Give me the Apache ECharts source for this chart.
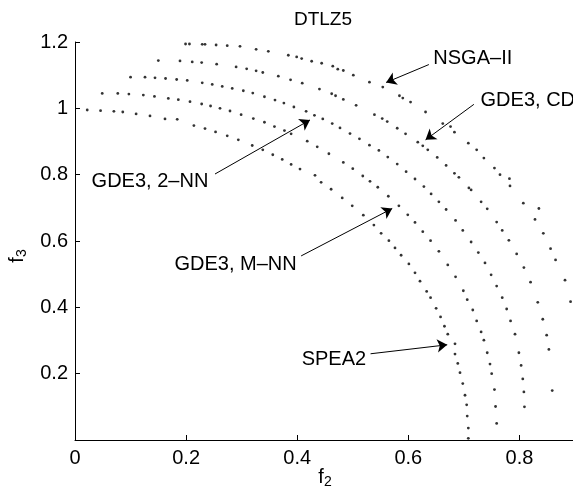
<!DOCTYPE html>
<html>
<head>
<meta charset="utf-8">
<script src="https://cdn.jsdelivr.net/npm/echarts@6/dist/echarts.min.js"></script>
<style>
  html, body { margin: 0; padding: 0; background: #fff; }
  #chart { width: 573px; height: 490px; }
</style>
</head>
<body>
<div id="chart"></div>
<script>
// points, [f2, f3]
var spea2 = [
  [0.022,0.995],[0.046,0.993],[0.070,0.991],[0.086,0.989],[0.110,0.983],[0.135,0.977],[0.162,0.968],[0.184,0.967],
  [0.214,0.948],[0.234,0.939],[0.253,0.929],[0.274,0.917],[0.294,0.905],[0.319,0.888],[0.338,0.875],[0.356,0.860],
  [0.373,0.846],[0.389,0.831],[0.405,0.817],[0.432,0.798],[0.443,0.777],[0.461,0.756],[0.481,0.730],[0.499,0.706],
  [0.519,0.678],[0.538,0.648],[0.551,0.623],[0.565,0.601],[0.576,0.579],[0.587,0.557],[0.601,0.531],[0.612,0.504],
  [0.621,0.479],[0.633,0.448],[0.640,0.429],[0.650,0.397],[0.658,0.371],[0.665,0.343],[0.671,0.319],[0.684,0.290],
  [0.684,0.259],[0.689,0.231],[0.693,0.203],[0.698,0.170],[0.702,0.135],[0.705,0.106],[0.706,0.072],[0.708,0.036],
  [0.708,0.005]
];
var gde3Mnn = [
  [0.049,1.045],[0.077,1.045],[0.097,1.043],[0.123,1.040],[0.143,1.036],[0.168,1.030],[0.186,1.026],[0.207,1.020],
  [0.228,1.013],[0.244,1.007],[0.261,1.000],[0.279,0.992],[0.299,0.981],[0.321,0.969],[0.341,0.958],[0.359,0.945],
  [0.377,0.933],[0.389,0.923],[0.418,0.901],[0.436,0.884],[0.457,0.863],[0.483,0.837],[0.500,0.818],[0.518,0.796],
  [0.531,0.780],[0.545,0.762],[0.564,0.735],[0.583,0.706],[0.599,0.679],[0.612,0.656],[0.626,0.628],[0.640,0.601],
  [0.655,0.569],[0.671,0.528],[0.685,0.492],[0.699,0.450],[0.706,0.423],[0.716,0.392],[0.723,0.359],[0.731,0.326],
  [0.736,0.301],[0.742,0.263],[0.747,0.229],[0.750,0.200],[0.755,0.152],[0.757,0.101],[0.759,0.050]
];
var gde3Nn2 = [
  [0.100,1.094],[0.126,1.094],[0.144,1.092],[0.163,1.090],[0.183,1.087],[0.202,1.084],[0.229,1.077],[0.247,1.072],
  [0.265,1.066],[0.283,1.060],[0.303,1.053],[0.320,1.046],[0.341,1.035],[0.360,1.025],[0.376,1.016],[0.394,1.004],
  [0.416,0.991],[0.431,0.979],[0.446,0.968],[0.463,0.954],[0.477,0.941],[0.495,0.924],[0.512,0.908],[0.530,0.889],
  [0.547,0.873],[0.563,0.853],[0.580,0.832],[0.596,0.809],[0.612,0.787],[0.628,0.764],[0.641,0.742],[0.655,0.718],
  [0.668,0.695],[0.685,0.662],[0.698,0.632],[0.713,0.597],[0.726,0.565],[0.738,0.534],[0.749,0.498],[0.759,0.464],
  [0.769,0.429],[0.777,0.395],[0.784,0.359],[0.792,0.319],[0.799,0.263],[0.803,0.225],[0.806,0.184],[0.808,0.145],
  [0.809,0.100]
];
var gde3Cd = [
  [0.150,1.144],[0.189,1.143],[0.211,1.140],[0.228,1.138],[0.255,1.133],[0.290,1.125],[0.309,1.119],[0.326,1.113],
  [0.338,1.108],[0.366,1.097],[0.388,1.086],[0.409,1.076],[0.440,1.058],[0.462,1.044],[0.469,1.038],[0.483,1.027],
  [0.506,1.009],[0.539,0.981],[0.553,0.969],[0.562,0.960],[0.580,0.940],[0.595,0.923],[0.617,0.898],[0.626,0.887],
  [0.635,0.875],[0.652,0.852],[0.668,0.828],[0.683,0.804],[0.691,0.792],[0.709,0.760],[0.713,0.754],[0.731,0.718],
  [0.742,0.697],[0.759,0.657],[0.769,0.632],[0.781,0.602],[0.795,0.561],[0.808,0.520],[0.820,0.476],[0.833,0.415],
  [0.842,0.364],[0.849,0.316],[0.853,0.273],[0.859,0.149]
];
var nsga2 = [
  [0.199,1.194],[0.206,1.194],[0.229,1.193],[0.234,1.193],[0.254,1.191],[0.274,1.189],[0.297,1.187],[0.326,1.178],
  [0.348,1.172],[0.384,1.160],[0.399,1.155],[0.408,1.150],[0.426,1.142],[0.444,1.136],[0.464,1.127],[0.473,1.118],
  [0.483,1.114],[0.501,1.100],[0.530,1.079],[0.554,1.064],[0.584,1.038],[0.590,1.031],[0.604,1.019],[0.631,0.989],
  [0.662,0.954],[0.676,0.945],[0.683,0.928],[0.708,0.895],[0.723,0.875],[0.736,0.850],[0.755,0.820],[0.765,0.800],
  [0.782,0.788],[0.783,0.766],[0.807,0.714],[0.835,0.698],[0.828,0.665],[0.843,0.623],[0.856,0.577],[0.865,0.543],
  [0.882,0.482],[0.892,0.417]
];

// annotation text: label, anchor [f2, f3], side of the anchor the text sits on
var noteTexts = [
  ["NSGA\u2013II", [0.645, 1.150], "right"],
  ["GDE3, CD", [0.730, 1.025], "right"],
  ["GDE3, 2\u2013NN", [0.240, 0.780], "left"],
  ["GDE3, M\u2013NN", [0.399, 0.530], "left"],
  ["SPEA2", [0.524, 0.242], "left"]
];
// arrows: from -> to, in data units
var noteArrows = [
  [[0.637, 1.132], [0.560, 1.078]],
  [[0.718, 1.012], [0.631, 0.905]],
  [[0.252, 0.802], [0.423, 0.965]],
  [[0.407, 0.555], [0.571, 0.698]],
  [[0.532, 0.260], [0.670, 0.287]]
];

var FONT = "Liberation Sans";

var chart = echarts.init(document.getElementById("chart"));

function dots(name, data) {
  return {
    name: name,
    type: "scatter",
    data: data,
    symbol: "circle",
    symbolSize: 2.8,
    itemStyle: { color: "#000" },
    silent: true
  };
}

var series = [
  dots("SPEA2", spea2),
  dots("GDE3, M-NN", gde3Mnn),
  dots("GDE3, 2-NN", gde3Nn2),
  dots("GDE3, CD", gde3Cd),
  dots("NSGA-II", nsga2)
];

series[0].markLine = {
  silent: true,
  symbol: ["none", "arrow"],
  symbolSize: 10,
  lineStyle: { color: "#000", width: 1, type: "solid" },
  label: { show: false },
  data: noteArrows.map(function (a) {
    return [{ coord: a[0] }, { coord: a[1] }];
  })
};
series[0].markPoint = {
  silent: true,
  symbol: "circle",
  symbolSize: 0,
  data: noteTexts.map(function (t) {
    return {
      coord: t[1],
      label: {
        show: true,
        formatter: t[0],
        position: t[2],
        distance: 0,
        color: "#000",
        fontFamily: FONT,
        fontSize: 20
      }
    };
  })
};

var nameRich = {
  f: { fontFamily: FONT, fontSize: 20, color: "#000", verticalAlign: "top", lineHeight: 22 },
  s: { fontFamily: FONT, fontSize: 14, color: "#000", verticalAlign: "bottom", lineHeight: 16, padding: [10, 0, 0, 0] }
};

var option = {
  animation: false,
  backgroundColor: "#fff",
  title: {
    text: "DTLZ5",
    left: 323,
    top: 10,
    padding: 0,
    textAlign: "center",
    textStyle: { fontFamily: FONT, fontSize: 19, fontWeight: "normal", color: "#000" }
  },
  grid: { left: 75, right: -2, top: 42, bottom: 50, containLabel: false, outerBoundsMode: "none" },
  xAxis: {
    type: "value",
    min: 0,
    max: 0.9,
    interval: 0.2,
    name: "{f|f}{s|2}",
    nameLocation: "middle",
    nameGap: 27,
    nameMoveOverlap: false,
    nameTextStyle: { rich: nameRich },
    axisLine: { lineStyle: { color: "#000", width: 1 } },
    axisTick: { inside: true, length: 5, lineStyle: { color: "#000" } },
    axisLabel: { showMaxLabel: false, margin: 8, color: "#000", fontFamily: FONT, fontSize: 20 },
    splitLine: { show: false }
  },
  yAxis: {
    type: "value",
    min: 0,
    max: 1.2,
    interval: 0.2,
    name: "{f|f}{s|3}",
    nameLocation: "middle",
    nameRotate: 90,
    nameGap: 42,
    nameTextStyle: { rich: nameRich, padding: [0, 30, 0, 0] },
    axisLine: { show: true, lineStyle: { color: "#000", width: 1 } },
    axisTick: { show: true, inside: true, length: 5, lineStyle: { color: "#000" } },
    axisLabel: { showMinLabel: false, margin: 7, color: "#000", fontFamily: FONT, fontSize: 20 },
    splitLine: { show: false }
  },
  series: series
};

chart.setOption(option);
</script>
</body>
</html>
